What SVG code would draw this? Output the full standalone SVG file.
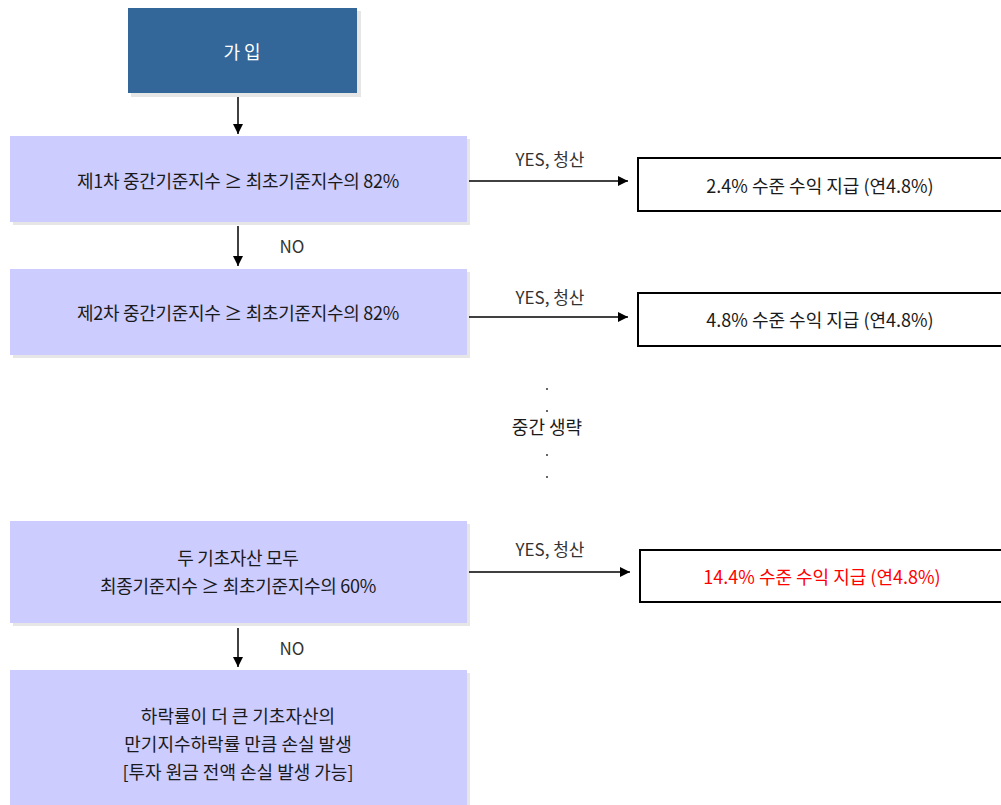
<svg xmlns="http://www.w3.org/2000/svg" width="1001" height="805" viewBox="0 0 1001 805">
<style>
text{font-family:"Noto Sans CJK KR","Noto Sans",sans-serif;font-size:18px;fill:#1a1a1a;text-anchor:middle;dominant-baseline:central}
.dec{fill:#ccccff}
.sh{fill:#e6e6e6}
.res{fill:#fff;stroke:#000;stroke-width:2}
.lbl{font-size:17px;fill:#333}
.ln{stroke:#000;stroke-width:1.5;fill:none}
</style>
<defs>
<marker id="ah" viewBox="0 0 10 10" refX="10" refY="5" markerWidth="10" markerHeight="10" markerUnits="userSpaceOnUse" orient="auto"><path d="M0,0 L10,5 L0,10 z" fill="#000"/></marker>
</defs>
<g id="start">
<rect class="sh" x="131" y="11" width="230" height="86"/>
<rect x="128" y="8" width="229" height="85" fill="#336699"/>
<text x="242" y="51" style="fill:#fff">가 입</text>
</g>
<g id="cond1">
<rect class="sh" x="13" y="139" width="457" height="86"/>
<rect class="dec" x="10" y="136" width="457" height="86"/>
<text x="238" y="180" letter-spacing="-0.3">제1차 중간기준지수 ≥ 최초기준지수의 82%</text>
</g>
<g id="res1">
<rect class="res" x="638" y="158" width="370" height="53"/>
<text x="820" y="185">2.4% 수준 수익 지급 (연4.8%)</text>
</g>
<g id="cond2">
<rect class="sh" x="13" y="272" width="457" height="86"/>
<rect class="dec" x="10" y="269" width="457" height="86"/>
<text x="238" y="312" letter-spacing="-0.3">제2차 중간기준지수 ≥ 최초기준지수의 82%</text>
</g>
<g id="res2">
<rect class="res" x="638" y="293" width="370" height="53"/>
<text x="820" y="319">4.8% 수준 수익 지급 (연4.8%)</text>
</g>
<g id="omit">
<circle cx="547" cy="389" r="1" fill="#333"/>
<circle cx="547" cy="411" r="1" fill="#333"/>
<text x="547" y="426">중간 생략</text>
<circle cx="547" cy="455" r="1" fill="#333"/>
<circle cx="547" cy="477" r="1" fill="#333"/>
</g>
<g id="cond3">
<rect class="sh" x="13" y="524" width="457" height="102"/>
<rect class="dec" x="10" y="521" width="457" height="102"/>
<text x="238" y="557" letter-spacing="-0.3">두 기초자산 모두</text>
<text x="238" y="585" letter-spacing="-0.3">최종기준지수 ≥ 최초기준지수의 60%</text>
</g>
<g id="res3">
<rect class="res" x="640" y="550" width="370" height="52"/>
<text x="822" y="576" style="fill:#ff0000">14.4% 수준 수익 지급 (연4.8%)</text>
</g>
<g id="loss">
<rect class="sh" x="13" y="673" width="457" height="135"/>
<rect class="dec" x="10" y="670" width="457" height="135"/>
<text x="238" y="715">하락률이 더 큰 기초자산의</text>
<text x="238" y="743">만기지수하락률 만큼 손실 발생</text>
<text x="238" y="771">[투자 원금 전액 손실 발생 가능]</text>
</g>
<g id="connectors">
<line class="ln" x1="238" y1="97" x2="238" y2="134" marker-end="url(#ah)"/>
<line class="ln" x1="238" y1="226" x2="238" y2="266" marker-end="url(#ah)"/>
<text class="lbl" x="292" y="245">NO</text>
<line class="ln" x1="469" y1="181" x2="628" y2="181" marker-end="url(#ah)"/>
<text class="lbl" x="550" y="158">YES, 청산</text>
<line class="ln" x1="469" y1="317" x2="628" y2="317" marker-end="url(#ah)"/>
<text class="lbl" x="550" y="296">YES, 청산</text>
<line class="ln" x1="469" y1="572" x2="630" y2="572" marker-end="url(#ah)"/>
<text class="lbl" x="550" y="548">YES, 청산</text>
<line class="ln" x1="238" y1="628" x2="238" y2="667" marker-end="url(#ah)"/>
<text class="lbl" x="292" y="647">NO</text>
</g>
</svg>
